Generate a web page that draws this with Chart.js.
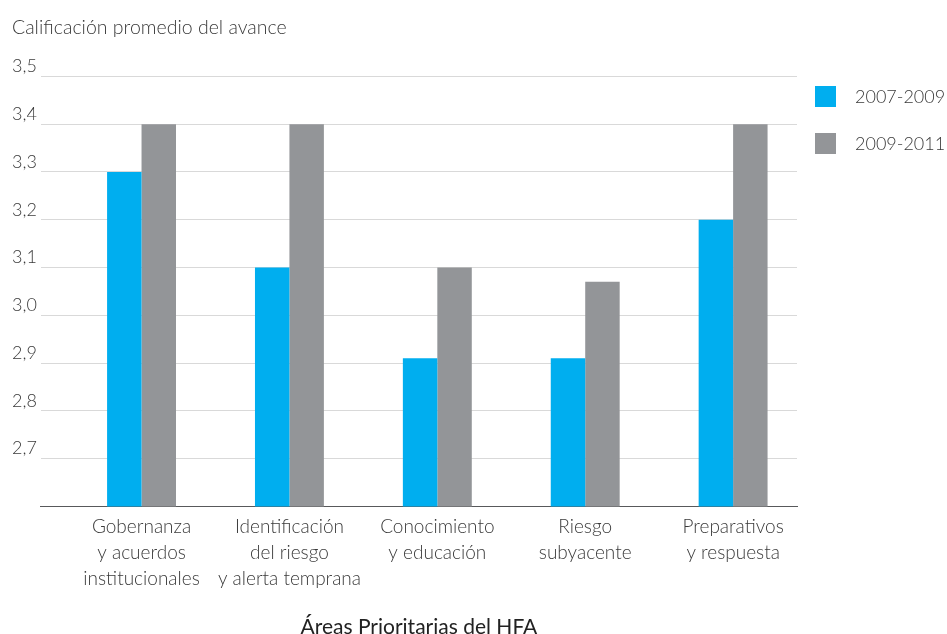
<!DOCTYPE html>
<html lang="es">
<head>
<meta charset="utf-8">
<script src="https://cdn.jsdelivr.net/npm/chart.js@4/dist/chart.umd.min.js"></script>
<style>
	html, body { margin: 0; padding: 0; background: #fff; }
	#contenedor { width: 947px; height: 634px; }
</style>
</head>
<body>
<div id="contenedor"><canvas id="grafico"></canvas></div>
<script>
// Datos
const categorias = [
	['Gobernanza', 'y acuerdos', 'institucionales'],
	['Identificación', 'del riesgo', 'y alerta temprana'],
	['Conocimiento', 'y educación'],
	['Riesgo', 'subyacente'],
	['Preparativos', 'y respuesta'],
]
const periodos = ['2007-2009', '2009-2011']
const valores2007 = [3.3, 3.1, 2.91, 2.91, 3.2]
const valores2009 = [3.4, 3.4, 3.1, 3.07, 3.4]
const colores = ['#00aeef', '#939598']

const fuente = 'Lato, "Open Sans", sans-serif'
const colorTexto = '#3a3a3a'

// Leyenda dibujada a la derecha (cuadro + texto)
const leyendaDerecha = {
	id: 'leyendaDerecha',
	afterDraw(chart) {
		const ctx = chart.ctx
		ctx.save()
		ctx.font = '300 18px ' + fuente
		ctx.textBaseline = 'middle'
		ctx.textAlign = 'left'
		chart.data.datasets.forEach((ds, i) => {
			const y = 86 + i * 47
			ctx.fillStyle = ds.backgroundColor
			ctx.fillRect(815, y, 21, 21)
			ctx.fillStyle = colorTexto
			ctx.fillText(ds.label, 855, y + 11)
		})
		ctx.restore()
	},
}

const series = [valores2007, valores2009]
const ctx = document.getElementById('grafico').getContext('2d')
new Chart(ctx, {
	type: 'bar',
	data: {
		datasets: series.map((vals, i) => ({
			label: periodos[i],
			data: vals.map((v, j) => ({ x: j, y: v })),
			backgroundColor: colores[i],
			borderWidth: 0,
			categoryPercentage: 0.466,
			barPercentage: 1,
		})),
	},
	options: {
		responsive: true,
		maintainAspectRatio: false,
		animation: false,
		layout: { padding: { left: 12, right: 150, top: 0, bottom: 0 } },
		plugins: {
			legend: { display: false },
			tooltip: { enabled: false },
			title: {
				display: true,
				text: 'Calificación promedio del avance',
				align: 'start',
				color: colorTexto,
				font: { family: fuente, size: 19.5, weight: '300' },
				padding: { top: 16, bottom: 37 },
			},
		},
		scales: {
			x: {
				type: 'linear',
				min: -0.681,
				max: 4.432,
				offset: false,
				grid: { display: false, drawTicks: false, offset: false },
				border: { display: true, color: '#58595b', width: 1 },
				ticks: {
					stepSize: 1,
					includeBounds: false,
					autoSkip: false,
					maxRotation: 0,
					padding: 7,
					color: colorTexto,
					font: { family: fuente, size: 19, weight: '300', lineHeight: 26 / 19 },
					callback: (v) => (Number.isInteger(v) && categorias[v] ? categorias[v] : ''),
				},
				title: {
					display: true,
					text: 'Áreas Prioritarias del HFA',
					color: '#222',
					font: { family: fuente, size: 21, lineHeight: 0.6 },
					padding: { top: 23, bottom: 0 },
				},
			},
			y: {
				min: 2.6,
				max: 3.5,
				grid: { color: '#d9d9d9', lineWidth: 1, drawTicks: false },
				border: { display: false },
				ticks: {
					stepSize: 0.1,
					crossAlign: 'far',
					padding: 2,
					labelOffset: -10,
					color: colorTexto,
					font: { family: fuente, size: 18, weight: '300' },
					callback: (v) => (Math.abs(v - 2.6) < 0.001 ? '' : v.toFixed(1).replace('.', ',')),
				},
			},
		},
	},
	plugins: [leyendaDerecha],
})
</script>
</body>
</html>
